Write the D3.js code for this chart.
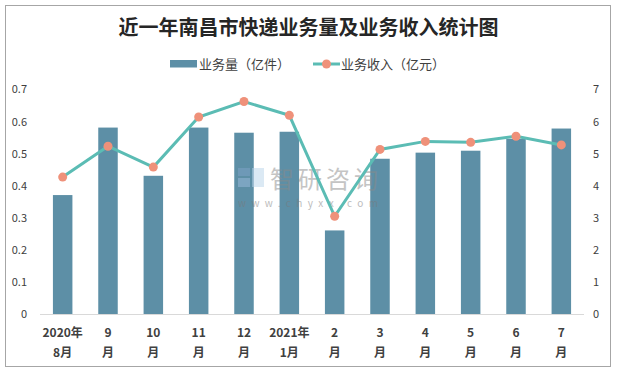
<!DOCTYPE html>
<html>
<head>
<meta charset="utf-8">
<script src="https://cdn.jsdelivr.net/npm/d3@7/dist/d3.min.js"></script>
<style>
    body { margin: 0; background: #fff; }
    svg text { font-family: "Noto Sans CJK SC", "Noto Sans", sans-serif; }
    .axis text { font-size: 11px; fill: #404040; }
    .axis path, .axis line { display: none; }
</style>
</head>
<body>
<div id="chart"></div>
<script>
// Data
var months = ['2020年|8月', '9|月', '10|月', '11|月', '12|月', '2021年|1月',
    '2|月', '3|月', '4|月', '5|月', '6|月', '7|月'];
var volume = [0.37, 0.58, 0.43, 0.58, 0.564, 0.567, 0.26, 0.483, 0.502, 0.508, 0.545, 0.577];
var revenue = [4.26, 5.22, 4.57, 6.13, 6.61, 6.18, 3.04, 5.12, 5.37, 5.34, 5.53, 5.26];
var leftTicks = [0, 0.1, 0.2, 0.3, 0.4, 0.5, 0.6, 0.7];
var rightTicks = [0, 1, 2, 3, 4, 5, 6, 7];

var width = 617, height = 373;
var margin = { top: 89, right: 33, bottom: 59, left: 40 };

var svg = d3.select('#chart').append('svg')
    .attr('width', width)
    .attr('height', height);

// frame
svg.append('rect')
    .attr('x', 5.5).attr('y', 5.5)
    .attr('width', 605).attr('height', 361)
    .attr('fill', '#fff')
    .attr('stroke', '#a6a6a6');

var x = d3.scaleBand()
    .domain(months)
    .range([margin.left, width - margin.right])
    .paddingInner(0.57)
    .paddingOuter(0.285);

var yL = d3.scaleLinear().domain([0, 0.7]).range([height - margin.bottom, margin.top]);
var yR = d3.scaleLinear().domain([0, 7]).range([height - margin.bottom, margin.top]);

// title
svg.append('text')
    .attr('x', width / 2)
    .attr('y', 35)
    .attr('text-anchor', 'middle')
    .style('font-size', '20px')
    .style('font-weight', 'bold')
    .style('fill', '#262626')
    .text('近一年南昌市快递业务量及业务收入统计图');

// legend
var legend = svg.append('g').attr('class', 'legend');
legend.append('rect')
    .attr('x', 170).attr('y', 60)
    .attr('width', 27).attr('height', 7.5)
    .attr('fill', '#5d8fa6');
legend.append('text')
    .attr('x', 199).attr('y', 69)
    .style('font-size', '13px').style('fill', '#404040')
    .text('业务量（亿件）');
legend.append('line')
    .attr('x1', 313).attr('x2', 340)
    .attr('y1', 64).attr('y2', 64)
    .attr('stroke', '#5bbcb4').attr('stroke-width', 3);
legend.append('circle')
    .attr('cx', 326.5).attr('cy', 64).attr('r', 4.5)
    .attr('fill', '#ef917a');
legend.append('text')
    .attr('x', 341).attr('y', 69)
    .style('font-size', '13px').style('fill', '#404040')
    .text('业务收入（亿元）');

// axes
svg.append('g')
    .attr('class', 'axis axis--left')
    .attr('transform', 'translate(27,0)')
    .call(d3.axisLeft(yL).tickValues(leftTicks).tickSize(0).tickPadding(0)
        .tickFormat(function (d) { return d === 0 ? '0' : d3.format('.1f')(d); }));

svg.append('g')
    .attr('class', 'axis axis--right')
    .attr('transform', 'translate(593,0)')
    .call(d3.axisRight(yR).tickValues(rightTicks).tickSize(0).tickPadding(0)
        .tickFormat(d3.format('d')));

svg.selectAll('.axis text').attr('dy', '0.35em');

// bars
svg.append('g').selectAll('rect')
    .data(volume)
    .enter()
    .append('rect')
    .attr('x', function (d, i) { return x(months[i]); })
    .attr('y', function (d) { return yL(d); })
    .attr('width', x.bandwidth())
    .attr('height', function (d) { return yL(0) - yL(d); })
    .attr('fill', '#5d8fa6');

// baseline
svg.append('line')
    .attr('x1', margin.left).attr('x2', width - margin.right)
    .attr('y1', yL(0) + 0.5).attr('y2', yL(0) + 0.5)
    .attr('stroke', '#d9d9d9');

// x labels
var xl = svg.append('g').selectAll('text')
    .data(months)
    .enter()
    .append('text')
    .attr('text-anchor', 'middle')
    .style('font-size', '12px')
    .style('font-weight', 'bold')
    .style('fill', '#404040');
xl.append('tspan')
    .attr('x', function (d) { return x(d) + x.bandwidth() / 2; })
    .attr('y', 337)
    .text(function (d) { return d.split('|')[0]; });
xl.append('tspan')
    .attr('x', function (d) { return x(d) + x.bandwidth() / 2; })
    .attr('y', 357)
    .text(function (d) { return d.split('|')[1]; });

// watermark
var wm = svg.append('g').attr('opacity', 0.5);
wm.append('rect').attr('x', 238).attr('y', 168).attr('width', 12).attr('height', 8).attr('fill', '#7fa3c8');
wm.append('rect').attr('x', 238).attr('y', 178).attr('width', 12).attr('height', 9).attr('fill', '#9bbcdc');
wm.append('rect').attr('x', 252).attr('y', 168).attr('width', 12).attr('height', 19).attr('fill', '#b9d4ea');
wm.append('text')
    .attr('x', 270).attr('y', 188)
    .style('font-size', '24px')
    .style('fill', '#8a8a8a')
    .attr('textLength', 108)
    .text('智研咨询');
wm.append('text')
    .attr('x', 238).attr('y', 207)
    .style('font-size', '10px')
    .style('fill', '#7a7a7a')
    .attr('textLength', 140)
    .text('www.chyxx.com');

// line
var line = d3.line()
    .x(function (d, i) { return x(months[i]) + x.bandwidth() / 2; })
    .y(function (d) { return yR(d); });

svg.append('path')
    .datum(revenue)
    .attr('d', line)
    .attr('fill', 'none')
    .attr('stroke', '#5bbcb4')
    .attr('stroke-width', 3);

svg.append('g').selectAll('circle')
    .data(revenue)
    .enter()
    .append('circle')
    .attr('cx', function (d, i) { return x(months[i]) + x.bandwidth() / 2; })
    .attr('cy', function (d) { return yR(d); })
    .attr('r', 4.5)
    .attr('fill', '#ef917a');
</script>
</body>
</html>
